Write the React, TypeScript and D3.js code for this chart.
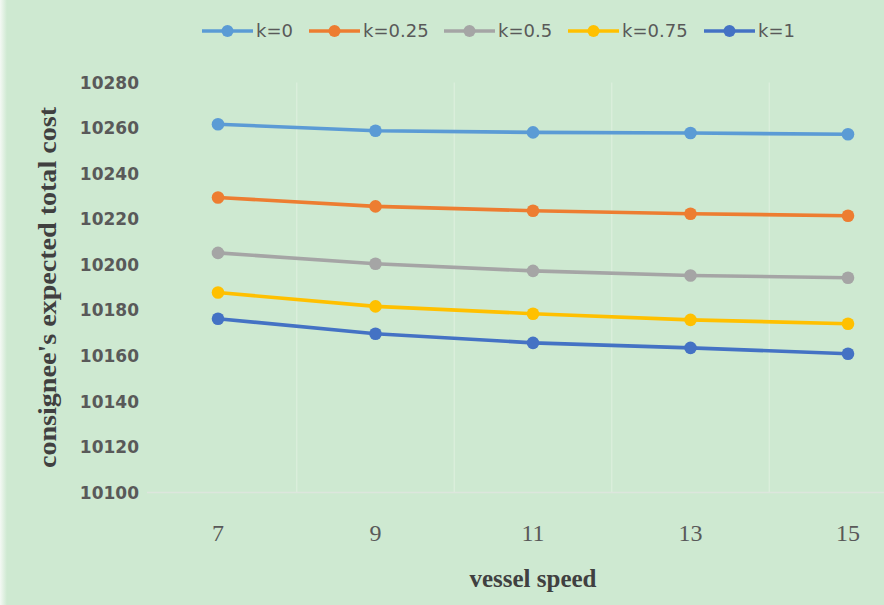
import React from "react";
import * as d3 from "d3";

const W = 884;
const H = 605;

const speeds = [7, 9, 11, 13, 15];
const seriesNames = ["k=0", "k=0.25", "k=0.5", "k=0.75", "k=1"];
const seriesColors = ["#5B9BD5", "#ED7D31", "#A5A5A5", "#FFC000", "#4472C4"];

const costK0 = [10261.7, 10258.8, 10258.1, 10257.8, 10257.3];
const costK025 = [10229.5, 10225.6, 10223.7, 10222.4, 10221.5];
const costK05 = [10205.2, 10200.4, 10197.3, 10195.3, 10194.3];
const costK075 = [10187.8, 10181.7, 10178.5, 10175.8, 10174.1];
const costK1 = [10176.3, 10169.7, 10165.7, 10163.5, 10160.9];

const seriesValues = [costK0, costK025, costK05, costK075, costK1];

const yTicks = [10100, 10120, 10140, 10160, 10180, 10200, 10220, 10240, 10260, 10280];
const xGridValues = [8, 10, 12, 14];

const legendX = [202, 309, 444, 568, 704];

export default function App() {
  const x = d3.scaleLinear().domain([7, 15]).range([218, 848]);
  const y = d3.scaleLinear().domain([10100, 10280]).range([492.5, 82.5]);

  const line = d3
    .line<number>()
    .x((_, i) => x(speeds[i]))
    .y((d) => y(d));

  const bg = "#cee9d1";
  const tickColor = "#595959";

  return (
    <svg
      width={W}
      height={H}
      viewBox={`0 0 ${W} ${H}`}
      style={{ position: "absolute", left: 0, top: 0, display: "block" }}
    >
      <defs>
        <linearGradient id="edge" x1="0" x2="1" y1="0" y2="0">
          <stop offset="0" stopColor="#f4f9f4" />
          <stop offset="1" stopColor={bg} />
        </linearGradient>
      </defs>
      <rect x={0} y={0} width={W} height={H} fill={bg} />
      <rect x={0} y={0} width={7} height={H} fill="url(#edge)" />

      {/* vertical gridlines between the speed labels */}
      {xGridValues.map((v) => (
        <line
          key={v}
          x1={x(v)}
          x2={x(v)}
          y1={y(10280)}
          y2={y(10100)}
          stroke="#dcefdd"
          strokeWidth={1.2}
        />
      ))}

      {/* category axis line */}
      <line x1={147} x2={W} y1={y(10100)} y2={y(10100)} stroke="#dde6dd" strokeWidth={1.5} />

      {/* y tick labels */}
      {yTicks.map((t) => (
        <text
          key={t}
          x={139}
          y={y(t)}
          dy="0.36em"
          textAnchor="end"
          fontFamily="DejaVu Sans"
          fontWeight="bold"
          fontSize={17}
          fill={tickColor}
        >
          {t}
        </text>
      ))}

      {/* x tick labels */}
      {speeds.map((s) => (
        <text
          key={s}
          x={x(s)}
          y={541}
          textAnchor="middle"
          fontFamily="Liberation Serif"
          fontSize={24}
          fill={tickColor}
        >
          {s}
        </text>
      ))}

      {/* axis titles */}
      <text
        x={533}
        y={587}
        textAnchor="middle"
        fontFamily="Liberation Serif"
        fontWeight="bold"
        fontSize={25}
        fill="#404040"
      >
        vessel speed
      </text>
      <text
        transform={`translate(56, ${(107 + 468) / 2}) rotate(-90)`}
        textAnchor="middle"
        fontFamily="Liberation Serif"
        fontWeight="bold"
        fontSize={26}
        fill="#404040"
        textLength={361}
        lengthAdjust="spacingAndGlyphs"
      >
        consignee's expected total cost
      </text>

      {/* series */}
      {seriesValues.map((vals, si) => (
        <g key={seriesNames[si]}>
          <path
            d={line(vals) || ""}
            fill="none"
            stroke={seriesColors[si]}
            strokeWidth={3.6}
            strokeLinejoin="round"
          />
          {vals.map((v, i) => (
            <circle key={i} cx={x(speeds[i])} cy={y(v)} r={6.3} fill={seriesColors[si]} />
          ))}
        </g>
      ))}

      {/* legend */}
      {seriesNames.map((name, si) => (
        <g key={name} transform={`translate(${legendX[si]}, 31)`}>
          <line x1={0} x2={51} y1={0} y2={0} stroke={seriesColors[si]} strokeWidth={3.6} />
          <circle cx={25.5} cy={0} r={6} fill={seriesColors[si]} />
          <text
            x={54}
            y={0}
            dy="0.36em"
            fontFamily="DejaVu Sans"
            fontSize={18}
            fill={tickColor}
          >
            {name}
          </text>
        </g>
      ))}
    </svg>
  );
}
